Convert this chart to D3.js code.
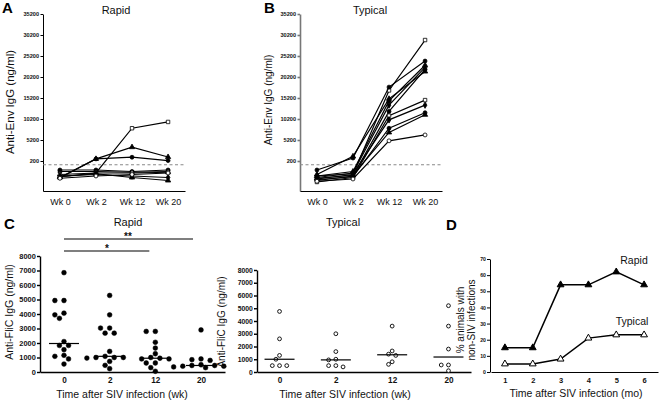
<!DOCTYPE html>
<html><head><meta charset="utf-8">
<script src="https://cdn.jsdelivr.net/npm/d3@7"></script>
<style>
body{margin:0;background:#fff;}
svg{display:block;font-family:"Liberation Sans",Arial,Helvetica,sans-serif;}
</style></head><body><svg id="c" width="665" height="403"></svg>
<script>
// ---------- DATA ----------
const weeks = ["Wk 0", "Wk 2", "Wk 12", "Wk 20"];
const envTicks = [200, 5200, 10200, 15200, 20200, 25200, 30200, 35200];
const envThreshold = 175;
// Panel A: rapid progressors, anti-Env IgG (ng/ml) per animal
const rapidEnv = [
  [95, 120, 8000, 9500],
  [90, 700, 3500, 1150],
  [88, 700, 1100, 300],
  [140, 140, 130, 140],
  [130, 130, 125, 130],
  [110, 120, 120, 125],
  [100, 110, 100, 90],
  [95, 115, 90, 70],
  [85, 100, 110, 120]
];
const rapidEnvSym = ["square", "triangle", "circle", "circle", "square", "triangle", "diamond", "triangle", "circle"];
const rapidEnvOpen = [true, false, false, false, false, true, false, false, true];
// Panel B: typical progressors
const typicalEnv = [
  [80, 110, 17000, 29000],
  [140, 900, 17800, 24000],
  [100, 130, 14500, 23000],
  [90, 120, 13500, 22500],
  [70, 100, 12000, 22000],
  [110, 1300, 15000, 21500],
  [60, 90, 11000, 14700],
  [75, 95, 8000, 11700],
  [85, 105, 7000, 11200],
  [65, 80, 5000, 6400],
  [100, 115, 10000, 13500]
];
const typicalEnvSym = ["square", "circle", "triangle", "diamond", "circle", "triangle", "square", "circle", "triangle", "circle", "diamond"];
const typicalEnvOpen = [true, false, false, false, false, false, true, false, false, true, false];

// Panel C: anti-FliC IgG (ng/ml)
const flicWeeks = ["0", "2", "12", "20"];
const flicTicks = [0, 1000, 2000, 3000, 4000, 5000, 6000, 7000, 8000];
const rapidFlic = [
  [6850, 4930, 4930, 4060, 3940, 3700, 2100, 1830, 1830, 1540, 1150, 1080, 900, 550],
  [5280, 3940, 3030, 3030, 2680, 2680, 1420, 1080, 1000, 1000, 1000, 960, 730, 460, 230],
  [2800, 2800, 2050, 1650, 1260, 1000, 950, 900, 900, 620, 620, 300, 50],
  [2900, 900, 850, 800, 500, 450, 450, 400, 400, 350, 300]
];
const typicalFlic = [
  [4750, 2600, 1300, 1000, 500, 500, 500],
  [3000, 1600, 1000, 950, 500, 400, 500],
  [3600, 1650, 1400, 1300, 800, 600],
  [5200, 3600, 1800, 550, 550, 100]
];

// Panel D: % animals with non-SIV infections
const months = [1, 2, 3, 4, 5, 6];
const rapidPct = [15, 15, 54, 54, 62, 54];
const typicalPct = [5, 5, 8, 21, 23, 23];
const pctTicks = [0, 10, 20, 30, 40, 50, 60, 70];

// ---------- DRAW ----------
const svg = d3.select("#c");
svg.append("rect").attr("width", 665).attr("height", 403).attr("fill", "#fff");
const symMap = {circle: d3.symbolCircle, square: d3.symbolSquare, triangle: d3.symbolTriangle, diamond: d3.symbolDiamond};

function styleAxis(g, fs, weight, color, sw) {
  g.selectAll("text").attr("font-size", fs).attr("font-weight", weight).attr("fill", "#111")
    .attr("font-family", '"Liberation Sans",Arial,sans-serif');
  g.selectAll("line").attr("stroke", color).attr("stroke-width", sw);
  g.select(".domain").attr("stroke", color).attr("stroke-width", sw);
}

function letter(t, x, y) {
  svg.append("text").attr("x", x).attr("y", y).attr("font-size", 15).attr("font-weight", "bold").text(t);
}
function txt(t, x, y, fs, anchor) {
  return svg.append("text").attr("x", x).attr("y", y).attr("font-size", fs)
    .attr("text-anchor", anchor || "middle").attr("fill", "#111").text(t);
}
function vtxt(t, x, y, fs) {
  return svg.append("text").attr("transform", `translate(${x},${y}) rotate(-90)`)
    .attr("font-size", fs).attr("text-anchor", "middle").attr("fill", "#111").text(t);
}

function envPanel(x0, x1, data, syms, opens, axisColor) {
  const x = d3.scalePoint().domain(weeks).range([x0, x1]).padding(0.47);
  const y = d3.scaleLinear().domain([0, 200, 35200]).range([191, 161, 14]);
  const g = svg.append("g");
  const ya = g.append("g").attr("transform", `translate(${x0},0)`)
    .call(d3.axisLeft(y).tickValues(envTicks).tickFormat(d3.format("d")).tickSize(2.5).tickPadding(1.5).tickSizeOuter(0));
  styleAxis(ya, 5.6, "bold", axisColor, axisColor === "#000" ? 1 : 1.6);
  const xa = g.append("g").attr("transform", `translate(0,191)`)
    .call(d3.axisBottom(x).tickSize(0).tickPadding(8).tickSizeOuter(0));
  styleAxis(xa, 9, "normal", "#000", 1);
  g.append("line").attr("x1", x0).attr("x2", x1).attr("y1", y(envThreshold)).attr("y2", y(envThreshold))
    .attr("stroke", "#888").attr("stroke-width", 1).attr("stroke-dasharray", "3,2.5");
  const line = d3.line().x((d, i) => x(weeks[i])).y(d => y(d));
  data.forEach((s, k) => {
    g.append("path").attr("d", line(s)).attr("fill", "none").attr("stroke", "#000").attr("stroke-width", 1.2);
    g.selectAll(null).data(s).join("path")
      .attr("d", d3.symbol(symMap[syms[k]], 12))
      .attr("transform", (d, i) => `translate(${x(weeks[i])},${y(d)})`)
      .attr("fill", opens[k] ? "#fff" : "#000").attr("stroke", "#000").attr("stroke-width", 0.8);
  });
}

// Panel A
letter("A", 2, 13);
txt("Rapid", 116, 14, 11);
vtxt("Anti-Env IgG (ng/ml)", 14, 102, 11.5);
envPanel(43, 185, rapidEnv, rapidEnvSym, rapidEnvOpen, "#000");
// Panel B
letter("B", 264, 13);
txt("Typical", 370, 14, 11);
vtxt("Anti-Env IgG (ng/ml)", 272, 100, 10);
envPanel(300, 442, typicalEnv, typicalEnvSym, typicalEnvOpen, "#777");

// dodge layout for scatter
function dodge(vals, y, cx, r, gap) {
  const placed = [];
  const sorted = vals.map(v => ({v, py: y(v)})).sort((a, b) => a.py - b.py);
  sorted.forEach(p => {
    for (let k = 0; k < 40; k++) {
      const off = (k % 2 === 0 ? 1 : -1) * Math.ceil(k / 2) * gap;
      const px = cx + off;
      if (placed.every(q => (q.px - px) ** 2 + (q.py - p.py) ** 2 >= (2 * r + 0.6) ** 2)) {
        p.px = px; placed.push(p); break;
      }
    }
  });
  return placed;
}

function flicPanel(x0, x1, pad, yTop, data, open, r, medHalf, tickFs) {
  const x = d3.scalePoint().domain(flicWeeks).range([x0, x1]).padding(pad);
  const y = d3.scaleLinear().domain([0, 8000]).range([372, yTop]);
  const g = svg.append("g");
  const ya = g.append("g").attr("transform", `translate(${x0},0)`)
    .call(d3.axisLeft(y).tickValues(flicTicks).tickFormat(d3.format("d")).tickSize(3).tickPadding(1.2).tickSizeOuter(0));
  styleAxis(ya, tickFs, "bold", "#000", 1.4);
  const xa = g.append("g").attr("transform", `translate(0,372)`)
    .call(d3.axisBottom(x).tickSize(0).tickPadding(5).tickSizeOuter(0));
  styleAxis(xa, 8.2, "bold", "#000", 1.6);
  data.forEach((vals, i) => {
    const cx = x(flicWeeks[i]);
    const pts = dodge(vals, y, cx, r, r * 1.9);
    g.selectAll(null).data(pts).join("circle")
      .attr("cx", d => d.px).attr("cy", d => d.py).attr("r", r)
      .attr("fill", open ? "#fff" : "#000").attr("stroke", "#000").attr("stroke-width", open ? 0.9 : 0.5);
    const m = d3.median(vals);
    g.append("line").attr("x1", cx - medHalf).attr("x2", cx + medHalf).attr("y1", y(m)).attr("y2", y(m))
      .attr("stroke", "#000").attr("stroke-width", 1.2);
  });
  return x;
}

// Panel C rapid
letter("C", 4, 229);
txt("Rapid", 128, 226, 11);
vtxt("Anti-FliC IgG (ng/ml)", 13, 312, 10.5);
const xc = flicPanel(40, 225, 0.525, 256, rapidFlic, false, 2.4, 15, 7.4);
svg.append("line").attr("x1", xc("0")).attr("x2", xc("20") - 8).attr("y1", 239).attr("y2", 239).attr("stroke", "#000").attr("stroke-width", 1.2);
txt("**", 128, 240, 10).attr("font-weight", "bold");
svg.append("line").attr("x1", xc("0")).attr("x2", xc("12") - 6).attr("y1", 251).attr("y2", 251).attr("stroke", "#000").attr("stroke-width", 1.2);
txt("*", 107, 252, 10).attr("font-weight", "bold");
txt("Time after SIV infection (wk)", 122, 398, 10.5);

// Panel C typical
txt("Typical", 343, 226, 11);
vtxt("Anti-FliC IgG (ng/ml)", 225, 322, 10);
flicPanel(257, 471, 0.4, 270, typicalFlic, true, 1.9, 15, 6.8);
txt("Time after SIV infection (wk)", 345, 398, 10.5);

// Panel D
letter("D", 446, 230);
const xd = d3.scaleLinear().domain([0.5, 6.5]).range([491, 658]);
const yd = d3.scaleLinear().domain([0, 70]).range([372, 259]);
const gd = svg.append("g");
const yda = gd.append("g").attr("transform", "translate(490,0)")
  .call(d3.axisLeft(yd).tickValues(pctTicks).tickSize(3).tickPadding(1).tickSizeOuter(0));
styleAxis(yda, 5.2, "bold", "#000", 1);
const xda = gd.append("g").attr("transform", "translate(0,372)")
  .call(d3.axisBottom(xd).tickValues(months).tickFormat(d3.format("d")).tickSize(0).tickPadding(6).tickSizeOuter(0));
styleAxis(xda, 7.5, "bold", "#000", 1);
const ld = d3.line().x((d, i) => xd(months[i])).y(d => yd(d));
[[rapidPct, false], [typicalPct, true]].forEach(([s, open]) => {
  gd.append("path").attr("d", ld(s)).attr("fill", "none").attr("stroke", "#000").attr("stroke-width", 1.5);
  gd.selectAll(null).data(s).join("path")
    .attr("d", d3.symbol(d3.symbolTriangle, 20))
    .attr("transform", (d, i) => `translate(${xd(months[i])},${yd(d)})`)
    .attr("fill", open ? "#fff" : "#000").attr("stroke", "#000").attr("stroke-width", 1);
});
txt("Rapid", 634, 264, 10.5);
txt("Typical", 632, 325, 10.5);
vtxt("% animals with", 464, 320, 10);
vtxt("non-SIV infections", 475, 320, 10);
txt("Time after SIV infection (mo)", 576, 397, 10.5);
</script></body></html>
